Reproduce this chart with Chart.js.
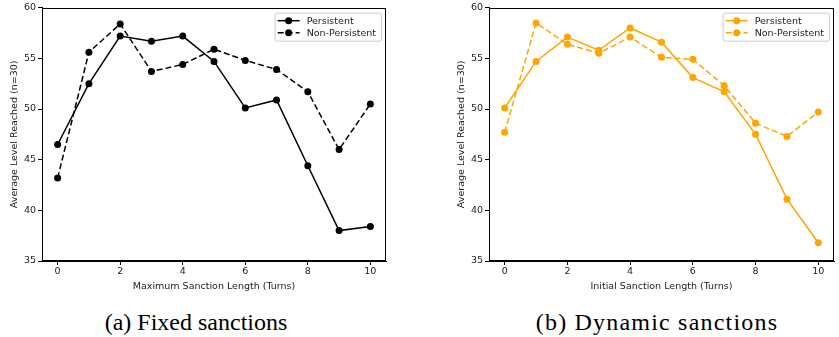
<!DOCTYPE html>
<html>
<head>
<meta charset="utf-8">
<script src="https://cdn.jsdelivr.net/npm/chart.js@4/dist/chart.umd.min.js"></script>
<style>
  body { margin: 0; background: #fff; width: 839px; height: 337px; position: relative; overflow: hidden; }
  canvas { position: absolute; top: 0; }
  .cap { position: absolute; top: 306px; font-family: "Liberation Serif", serif; font-size: 24px; line-height: 32px; color: #000; text-align: center; white-space: nowrap; }
</style>
</head>
<body>
<canvas id="fixed" width="400" height="296" style="left:0px"></canvas>
<canvas id="dynamic" width="392" height="296" style="left:447px"></canvas>
<div class="cap" style="left:96px;width:200px">(a) Fixed sanctions</div>
<div class="cap" style="left:527px;width:260px;letter-spacing:1.2px">(b) Dynamic sanctions</div>
<script>
var turns = [0, 1, 2, 3, 4, 5, 6, 7, 8, 9, 10];
var xTicks = [0, 2, 4, 6, 8, 10];
var yTicks = [35, 40, 45, 50, 55, 60];

var fixedPersistent = [46.5, 52.5, 57.2, 56.7, 57.2, 54.7, 50.1, 50.9, 44.4, 38.0, 38.4];
var fixedNonPersistent = [43.2, 55.6, 58.4, 53.7, 54.4, 55.9, 54.8, 53.9, 51.7, 46.0, 50.5];
var dynPersistent = [50.1, 54.7, 57.1, 55.8, 58.0, 56.6, 53.1, 51.7, 47.5, 41.1, 36.8];
var dynNonPersistent = [47.7, 58.5, 56.4, 55.5, 57.1, 55.1, 54.9, 52.3, 48.6, 47.3, 49.7];

var small = { family: 'DejaVu Sans', size: 9.5 };

// frame round the plot + legend box inside the upper right corner
var frameLegend = {
  id: 'frameLegend',
  afterDraw: function (chart) {
    var c = chart.ctx, a = chart.chartArea;
    c.save();
    c.strokeStyle = '#000';
    c.lineWidth = 1;
    c.strokeRect(Math.round(a.left) + 0.5, Math.round(a.top) + 0.5, Math.round(a.right - a.left) - 1, Math.round(a.bottom - a.top) - 1);

    c.font = '9.5px "DejaVu Sans"';
    var ds = chart.data.datasets;
    var tw = 0;
    ds.forEach(function (d) { tw = Math.max(tw, c.measureText(d.label).width); });
    var w = 3 + 22 + 7 + tw + 5, h = 28;
    var x0 = a.right - 5 - w, y0 = a.top + 5;
    c.fillStyle = 'rgba(255,255,255,0.8)';
    c.strokeStyle = '#cccccc';
    c.beginPath();
    c.roundRect(x0 + 0.5, y0 + 0.5, w, h, 2);
    c.fill();
    c.stroke();
    ds.forEach(function (d, i) {
      var y = y0 + 8 + i * 12;
      c.strokeStyle = d.borderColor;
      c.lineWidth = 1.5;
      c.setLineDash(d.borderDash || []);
      c.beginPath();
      c.moveTo(x0 + 3, y);
      c.lineTo(x0 + 25, y);
      c.stroke();
      c.setLineDash([]);
      c.fillStyle = d.borderColor;
      c.beginPath();
      c.arc(x0 + 14, y, 3.5, 0, Math.PI * 2);
      c.fill();
      c.fillStyle = '#222';
      c.textBaseline = 'middle';
      c.fillText(d.label, x0 + 32, y + 0.5);
    });
    c.restore();
  }
};

function pts(vals) {
  return vals.map(function (v, i) { return { x: turns[i], y: v }; });
}

function makeChart(id, xTitle, color, persistent, nonPersistent, padRight) {
  return new Chart(document.getElementById(id), {
    type: 'line',
    data: {
      datasets: [{
        label: 'Persistent',
        data: pts(persistent),
        borderColor: color,
        backgroundColor: color,
        borderWidth: 1.5,
        pointRadius: 3.5,
        pointBackgroundColor: color,
        pointBorderWidth: 0,
        tension: 0
      }, {
        label: 'Non-Persistent',
        data: pts(nonPersistent),
        borderColor: color,
        backgroundColor: color,
        borderWidth: 1.5,
        borderDash: [6, 3],
        pointRadius: 3.5,
        pointBackgroundColor: color,
        pointBorderWidth: 0,
        tension: 0
      }]
    },
    options: {
      responsive: false,
      animation: false,
      layout: { padding: { top: 6, right: padRight, left: 5, bottom: 0 } },
      plugins: { legend: { display: false }, tooltip: { enabled: false } },
      scales: {
        x: {
          type: 'linear',
          min: -0.5,
          max: 10.5,
          afterBuildTicks: function (s) { s.ticks = xTicks.map(function (v) { return { value: v }; }); },
          afterFit: function (s) { s.height = 35; },
          grid: { drawOnChartArea: false, drawTicks: true, tickLength: 4, tickColor: '#000' },
          border: { display: true, color: '#000' },
          ticks: { color: '#222', font: small, padding: 1, maxRotation: 0 },
          title: { display: true, text: xTitle, color: '#222', font: small, padding: { top: 2, bottom: 4 } }
        },
        y: {
          min: 35,
          max: 60,
          afterBuildTicks: function (s) { s.ticks = yTicks.map(function (v) { return { value: v }; }); },
          afterFit: function (s) { s.width = 37; },
          grid: { drawOnChartArea: false, drawTicks: true, tickLength: 4, tickColor: '#000' },
          border: { display: true, color: '#000' },
          ticks: { color: '#222', font: small, padding: 2 },
          title: { display: true, text: 'Average Level Reached (n=30)', color: '#222', font: small, padding: { top: 4, bottom: 2 } }
        }
      }
    },
    plugins: [frameLegend]
  });
}

makeChart('fixed', 'Maximum Sanction Length (Turns)', '#000000', fixedPersistent, fixedNonPersistent, 14);
makeChart('dynamic', 'Initial Sanction Length (Turns)', '#ffa500', dynPersistent, dynNonPersistent, 5);
</script>
</body>
</html>
